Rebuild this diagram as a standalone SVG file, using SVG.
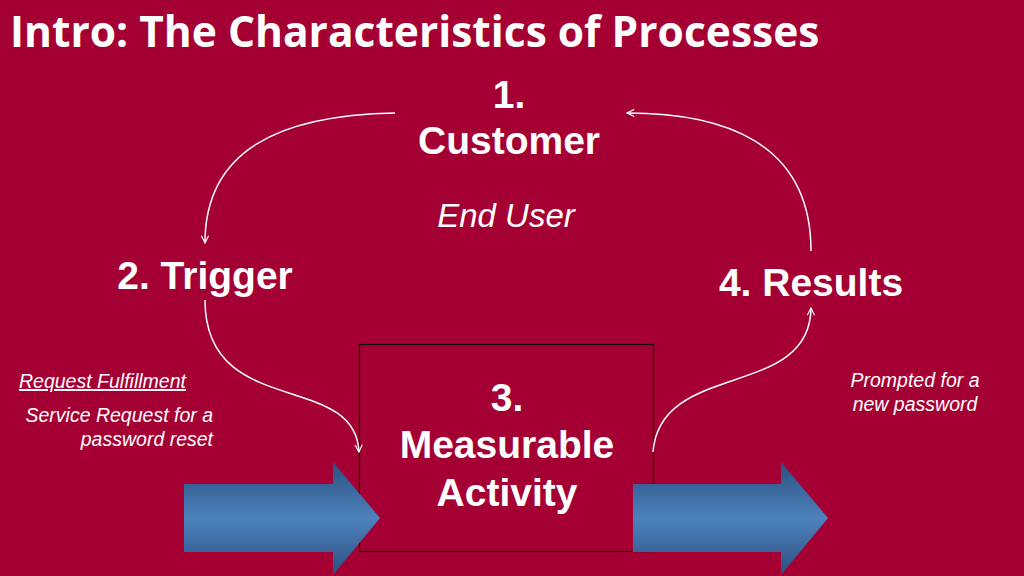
<svg xmlns="http://www.w3.org/2000/svg" width="1024" height="576" viewBox="0 0 1024 576">
<defs>
<linearGradient id="bg" x1="0" y1="0" x2="0" y2="1"><stop offset="0" stop-color="#2c4f80"/><stop offset="0.5" stop-color="#4d82bd"/><stop offset="1" stop-color="#2c4f80"/></linearGradient>
<marker id="ah" viewBox="0 0 10 10" refX="9" refY="5" markerWidth="9" markerHeight="9" orient="auto" markerUnits="userSpaceOnUse"><path d="M1,1 L9,5 L1,9" fill="none" stroke="#fff" stroke-width="1.3"/></marker>
</defs>
<style>
.t{font-family:"Liberation Sans",Arial,sans-serif;fill:#fff;font-weight:bold}
.i{font-family:"Liberation Sans",Arial,sans-serif;fill:#fff;font-style:italic}
.c{fill:none;stroke:#fff;stroke-width:1.5;marker-end:url(#ah)}
</style>
<rect width="1024" height="576" fill="#a50034"/>
<text x="10" y="47" font-family="'Open Sans','Noto Sans',sans-serif" font-weight="bold" font-size="42.5" fill="#fff">Intro: The Characteristics of Processes</text>
<g id="box"><rect x="359.5" y="344.5" width="294" height="207" fill="none" stroke="#111" stroke-width="1.2"/>
<text class="t" font-size="39" text-anchor="middle" x="507" y="411">3.</text>
<text class="t" font-size="39" text-anchor="middle" x="507" y="458">Measurable</text>
<text class="t" font-size="39" text-anchor="middle" x="507" y="506">Activity</text></g>
<g id="arrows">
<path d="M184,484 H333 V462 L380,518 L333,575 V552 H184 Z" fill="url(#bg)"/>
<path d="M633,484 H781 V462 L828,518 L781,575 V552 H633 Z" fill="url(#bg)"/>
</g>
<g id="customer"><text class="t" font-size="39" text-anchor="middle" x="509" y="108">1.</text>
<text class="t" font-size="39" text-anchor="middle" x="509" y="154">Customer</text>
<text class="i" font-size="33" text-anchor="middle" x="506" y="227">End User</text></g>
<g id="trigger"><text class="t" font-size="39" text-anchor="middle" x="205" y="289">2. Trigger</text>
<text class="i" font-size="19.5" x="19" y="388" text-decoration="underline">Request Fulfillment</text>
<text class="i" font-size="19.5" text-anchor="end" x="213" y="422">Service Request for a</text>
<text class="i" font-size="19.5" text-anchor="end" x="213" y="446">password reset</text></g>
<g id="results"><text class="t" font-size="39" text-anchor="middle" x="811" y="296">4. Results</text>
<text class="i" font-size="19.5" text-anchor="middle" x="915" y="387">Prompted for a</text>
<text class="i" font-size="19.5" text-anchor="middle" x="915" y="411">new password</text></g>
<g id="connectors">
<path class="c" d="M395,113 C280,115 205,150 205,243"/>
<path class="c" d="M205,300 C205,420 355,370 359,452"/>
<path class="c" d="M653,452 C660,360 810,400 811,308"/>
<path class="c" d="M811,251 C811,140 720,113 627,113"/>
</g>
</svg>
